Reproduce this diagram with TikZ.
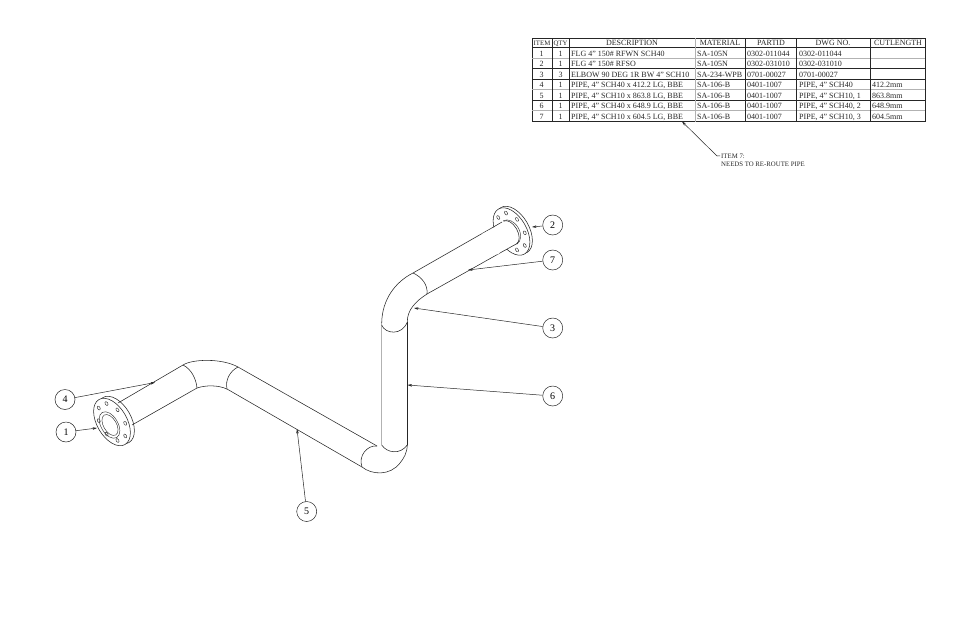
\documentclass[tikz,border=0pt]{standalone}
\usepackage{fontspec}
\setmainfont{Liberation Serif}
\usetikzlibrary{arrows.meta}
\tikzset{
  pipeline/.style={line width=0.55pt,draw=black!85},
  faint/.style={line width=0.5pt,draw=black!30},
  holeline/.style={line width=0.45pt,draw=black!80},
  balloon/.style={circle,draw=black!85,line width=0.5pt,minimum size=20pt,inner sep=0pt,font=\fontsize{10}{10}\selectfont},
  leader/.style={line width=0.5pt,draw=black!85,-{Stealth[length=4.5pt,width=2.6pt]}},
  grid/.style={line width=0.5pt,draw=black!85},
  gridfaint/.style={line width=0.4pt,draw=black!30},
  cell/.style={inner sep=0pt,anchor=base,font=\fontsize{8}{8}\selectfont,text=black!85},
  cellL/.style={cell,anchor=base west},
  narrowcell/.style={cell,font=\fontsize{6.8}{8}\selectfont},
  note/.style={inner sep=0pt,anchor=base west,font=\fontsize{6.8}{8}\selectfont,text=black!85}
}
\newcommand{\tabrow}[8]{%
  \node[cell]  (i#1) at (541.5,#2) {#1};
  \node[cell]  (q#1) at (560.5,#2) {#3};
  \node[cellL] (d#1) at (571,#2) {#4};
  \node[cellL] (m#1) at (697,#2) {#5};
  \node[cellL] (p#1) at (747,#2) {#6};
  \node[cellL] (w#1) at (799,#2) {#7};
  \node[cellL] (l#1) at (872,#2) {#8};
}
\newcommand{\flangeholes}[2]{%
  \begin{scope}[shift={(#1,#2)},rotate=30]
    \foreach \a in {22.5,67.5,...,337.5}
      \draw[holeline] ({0.78*15*cos(\a)},{-0.78*26*sin(\a)}) ellipse [x radius=1.3,y radius=2.1];
  \end{scope}%
}
\begin{document}
\begin{tikzpicture}[x=1pt,y=-1pt]
\useasboundingbox (0,0) rectangle (960,621);

% --- parts list ---
\draw[grid] (532,38) rectangle (925,121.5);
\foreach \y in {47.5,68.5,79,100.5} \draw[grid] (532,\y) -- (925,\y);
\foreach \y in {58,89.5,110.5} \draw[gridfaint] (532,\y) -- (925,\y);
\foreach \x in {552,569,745,796,870} \draw[grid] (\x,38) -- (\x,121.5);
\draw[gridfaint] (695,38) -- (695,121.5);
\node[narrowcell] (hi) at (542,45.5) {ITEM};
\node[narrowcell] (hq) at (560.5,45.5) {QTY};
\node[cell] (hd) at (632,45.5) {DESCRIPTION};
\node[cell] (hm) at (720,45.5) {MATERIAL};
\node[cell] (hp) at (771,45.5) {PARTID};
\node[cell] (hw) at (833,45.5) {DWG NO.};
\node[cell] (hl) at (898,45.5) {CUTLENGTH};
\tabrow{1}{56}{1}{FLG 4" 150\# RFWN SCH40}{SA-105N}{0302-011044}{0302-011044}{}
\tabrow{2}{66.5}{1}{FLG 4" 150\# RFSO}{SA-105N}{0302-031010}{0302-031010}{}
\tabrow{3}{77}{3}{ELBOW 90 DEG 1R BW 4" SCH10}{SA-234-WPB}{0701-00027}{0701-00027}{}
\tabrow{4}{87.5}{1}{PIPE, 4" SCH40 x 412.2 LG, BBE}{SA-106-B}{0401-1007}{PIPE, 4" SCH40}{412.2mm}
\tabrow{5}{98}{1}{PIPE, 4" SCH10 x 863.8 LG, BBE}{SA-106-B}{0401-1007}{PIPE, 4" SCH10, 1}{863.8mm}
\tabrow{6}{108.5}{1}{PIPE, 4" SCH40 x 648.9 LG, BBE}{SA-106-B}{0401-1007}{PIPE, 4" SCH40, 2}{648.9mm}
\tabrow{7}{119}{1}{PIPE, 4" SCH10 x 604.5 LG, BBE}{SA-106-B}{0401-1007}{PIPE, 4" SCH10, 3}{604.5mm}

% --- note ---
\node[note] (n1) at (721,158.5) {ITEM 7:};
\node[note] (n2) at (721,166) {NEEDS TO RE-ROUTE PIPE};
\coordinate (nk) at (717,156);
\coordinate (nt) at (682,121.5);
\draw[line width=0.5pt,draw=black!85] (n1.west) ++(-1,-0.5) -- (nk);
\draw[leader] (nk) -- (nt);

% --- lower flange, back rim ---
\draw[pipeline,fill=white,rotate around={30:(116,420)}] (116,420) ellipse [x radius=15,y radius=26];

% --- pipe run ---
\draw[pipeline] (118,403) -- (183,365);
\draw[pipeline] (132,425) -- (197,388);
\draw[pipeline] (183,365) .. controls (191,369) and (196,378) .. (197,388);
\draw[pipeline] (183,365) .. controls (192,359) and (222,358) .. (238,367);
\draw[pipeline] (197,388) .. controls (206,385) and (218,385) .. (227,389);
\draw[pipeline] (238,367) .. controls (230,371) and (225,380) .. (227,389);
\draw[pipeline] (238,367) -- (377,446);
\draw[pipeline] (227,389) -- (362,467);
\draw[pipeline] (377,446) .. controls (367,445) and (358,456) .. (362,467);
\draw[pipeline] (362,467) .. controls (372,475) and (390,476) .. (400,463) .. controls (404,458) and (407,453) .. (407.3,445);
\draw[pipeline] (381.7,445) .. controls (387,453) and (400,455) .. (407.3,445);
\draw[faint] (381.7,445) -- (381.7,323);
\draw[pipeline] (407.3,445) -- (407.3,322);
\draw[pipeline] (381.7,325) .. controls (385,334) and (402,336) .. (407.3,322);
\draw[pipeline] (381.7,323) .. controls (382,300) and (395,282) .. (413,273);
\draw[pipeline] (407.3,322) .. controls (407,310) and (416,301) .. (427,294);
\draw[pipeline] (413,273) .. controls (422,277) and (428,285) .. (427,294);
\draw[pipeline] (413,273) -- (490,229);
\draw[pipeline] (427,294) -- (500,253);

% --- lower flange, face ---
\draw[pipeline,fill=white,rotate around={30:(112,422)}] (112,422) ellipse [x radius=15,y radius=26];
\draw[holeline,rotate around={30:(109.5,425)}] (109.5,425) ellipse [x radius=8.5,y radius=14.5];
\draw[holeline,rotate around={30:(110,425)}] (110,425) ellipse [x radius=6.5,y radius=11.5];
\flangeholes{112}{422}

% --- upper flange ---
\draw[pipeline,fill=white,rotate around={30:(514,230)}] (514,230) ellipse [x radius=15,y radius=26];
\draw[pipeline,fill=white,rotate around={30:(511.5,231.5)}] (511.5,231.5) ellipse [x radius=15,y radius=26];
\flangeholes{511.5}{231.5}
\fill[white] (497,226) -- (502,222) -- (518,243) -- (512,246) -- (497,254.5) -- (482,234) -- cycle;
\draw[pipeline] (490,229) -- (502,222);
\draw[pipeline] (500,253) -- (518,243);
\begin{scope}[shift={(510,232.5)},rotate=30]
  \fill[white] (0,-13) arc [start angle=-90,end angle=90,x radius=7.5,y radius=13] -- cycle;
  \draw[pipeline] (0,-13) arc [start angle=-90,end angle=90,x radius=7.5,y radius=13];
  \draw[holeline] (0,-13.5) arc [start angle=-90,end angle=90,x radius=9.5,y radius=13.5];
\end{scope}

% --- balloons ---
\node[balloon] (b4) at (65,399.5) {4};
\node[balloon] (b1) at (66,432) {1};
\node[balloon] (b2) at (552.7,225) {2};
\node[balloon] (b7) at (552.7,260) {7};
\node[balloon] (b3) at (552.7,328) {3};
\node[balloon] (b6) at (552.7,396) {6};
\node[balloon] (b5) at (306.7,511.5) {5};
\coordinate (t4) at (155,382.5);
\coordinate (t1) at (97,428);
\coordinate (t2) at (532,227);
\coordinate (t7) at (468,270);
\coordinate (t3) at (414,308);
\coordinate (t6) at (407.5,385);
\coordinate (t5) at (297,429);
\foreach \n in {4,1,2,7,3,6,5} \draw[leader] (b\n) -- (t\n);
\end{tikzpicture}
\end{document}
